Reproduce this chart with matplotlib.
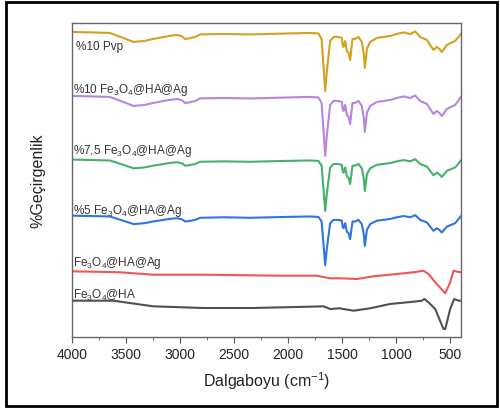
import numpy as np
import matplotlib
matplotlib.use('Agg')
import matplotlib.pyplot as plt
from matplotlib.patches import Rectangle
import matplotlib.ticker as mticker

plt.rcParams['font.family'] = ['Liberation Sans', 'DejaVu Sans']
plt.rcParams['mathtext.fontset'] = 'custom'
plt.rcParams['mathtext.rm'] = 'Liberation Sans'
plt.rcParams['mathtext.it'] = 'Liberation Sans'

# --- Data (wavenumber in cm-1, transmittance in arbitrary units, stacked)
wn_pvp = [4000, 3800, 3650, 3550, 3430, 3330, 3250, 3100, 3030, 2980, 2955, 2920,
          2860, 2815, 2600, 2350, 2000, 1800, 1720, 1690, 1672, 1657, 1642, 1611,
          1580, 1540, 1503, 1495, 1488, 1472, 1457, 1440, 1426, 1404, 1380, 1349,
          1318, 1300, 1290, 1271, 1241, 1210, 1179, 1117, 1056, 994, 932, 870,
          824, 778, 716, 655, 623, 600, 577, 531, 454, 400]

t_pvp = [305, 304.5, 304, 300, 295, 296, 298, 301, 302, 300.5, 298, 298.5,
         300, 302.5, 303, 302.5, 303.5, 304, 303.5, 298, 270, 246, 265, 296,
         300, 300, 299, 292, 290, 296, 286, 284, 277, 298, 298, 300,
         295, 283, 269, 288, 295, 297, 299, 300, 301, 303, 304.5, 303,
         305.5, 300, 297, 287, 290, 288, 285, 292, 296, 303]

t_10 = [241, 240.5, 240, 236, 231, 232, 234, 237, 238, 236.5, 234, 234.5,
        236, 238.5, 239, 238.5, 239.5, 240, 239.5, 234, 206, 181, 201, 232,
        236, 236, 235, 228, 226, 232, 222, 220, 213, 234, 234, 236,
        231, 219, 205, 224, 231, 233, 235, 236, 237, 239, 240.5, 239,
        241.5, 236, 233, 223, 226, 224, 221, 228, 232, 240]

t_75 = [177.4, 176.9, 176.5, 173, 168.7, 169.5, 171.3, 173.9, 174.8, 173.5, 171.3, 171.7,
        173, 175.2, 175.6, 175.2, 176.1, 176.5, 176.1, 171.3, 147, 126, 143, 169.5,
        173, 173, 172.1, 166.1, 164.3, 169.5, 160.8, 159.1, 153, 171.3, 171.3, 173,
        168.7, 158.2, 146, 162.6, 168.7, 170.4, 172.1, 173, 173.9, 175.6, 176.9, 175.6,
        177.8, 173, 170.4, 161.7, 164.3, 162.6, 160, 166.1, 169.5, 176.5]

t_5 = [121.3, 120.9, 120.5, 117.1, 112.9, 113.8, 115.5, 118, 118.8, 117.6, 115.5, 115.9,
       117.1, 119.2, 119.7, 119.2, 120.1, 120.5, 120.1, 115.5, 92, 71.8, 88, 113.8,
       117.1, 117.1, 116.3, 110.4, 108.7, 113.8, 105.4, 103.7, 97.8, 115.5, 115.5, 117.1,
       112.9, 102.9, 91.1, 107.1, 112.9, 114.6, 116.3, 117.1, 118, 119.7, 120.9, 119.7,
       121.8, 117.1, 114.6, 106.2, 108.7, 107.1, 104.5, 110.4, 113.8, 121]

wn_ag = [4000, 3556, 3250, 2787, 2074, 1735, 1611, 1519, 1364, 1210, 994, 840,
         747, 701, 639, 546, 500, 469, 438, 400]
t_ag = [65.7, 64.7, 62.3, 62.3, 61.3, 61.3, 58.7, 58.7, 58, 60.7, 63, 64.7,
        66.3, 63, 54.7, 43.7, 54.7, 66.3, 65.3, 64.7]

wn_ha = [4000, 3617, 3401, 3250, 2787, 2324, 1796, 1673, 1611, 1519, 1488, 1395,
         1241, 1056, 840, 762, 738, 701, 639, 562, 546, 500, 463, 423, 400]
t_ha = [36.3, 36.3, 33, 30.7, 29, 29, 30.3, 30.7, 28, 28.7, 28, 26.3,
        28.7, 33, 35.3, 36.3, 38, 34.7, 28, 8, 8, 28, 38, 36.3, 36.3]

series = [
    (wn_pvp, t_pvp, '#D4A020', '%10 Pvp', 291),
    (wn_pvp, t_10, '#B784E0', '%10 Fe$_3$O$_4$@HA@Ag', 248),
    (wn_pvp, t_75, '#45B06A', '%7,5 Fe$_3$O$_4$@HA@Ag', 187),
    (wn_pvp, t_5, '#2F74E0', '%5 Fe$_3$O$_4$@HA@Ag', 127),
    (wn_ag, t_ag, '#F05558', 'Fe$_3$O$_4$@HA@Ag', 75),
    (wn_ha, t_ha, '#505050', 'Fe$_3$O$_4$@HA', 43),
]

fig = plt.figure(figsize=(5, 4.1), dpi=100)
ax = fig.add_axes([0.144, 0.1756, 0.778, 0.766])

for wn, t, col, lab, ty in series:
    ax.plot(wn, t, color=col, lw=1.5)
    ax.text(3990 if lab != '%10 Pvp' else 3960, ty, lab, fontsize=8.5,
            color='#333333', va='center', ha='left')

ax.set_xlim(4000, 400)
ax.set_ylim(0, 314)
ax.set_yticks([])
ax.xaxis.set_major_locator(mticker.MultipleLocator(500))
ax.xaxis.set_minor_locator(mticker.MultipleLocator(250))
ax.tick_params(axis='x', which='major', direction='out', length=4, labelsize=10,
               color='#555555', labelcolor='#222222')
ax.tick_params(axis='x', which='minor', direction='out', length=2.5, color='#555555')
for sp in ax.spines.values():
    sp.set_color('#666666')
    sp.set_linewidth(1.0)

ax.set_xlabel('Dalgaboyu (cm$^{-1}$)', fontsize=11.5, color='#222222', labelpad=6)
ax.set_ylabel('%Geçirgenlik', fontsize=11.5, color='#222222', labelpad=19)

fig.patches.append(Rectangle((0.012, 0.008), 0.982, 0.985, transform=fig.transFigure,
                             fill=False, edgecolor='black', linewidth=2))

fig.savefig('out.png', dpi=100)
